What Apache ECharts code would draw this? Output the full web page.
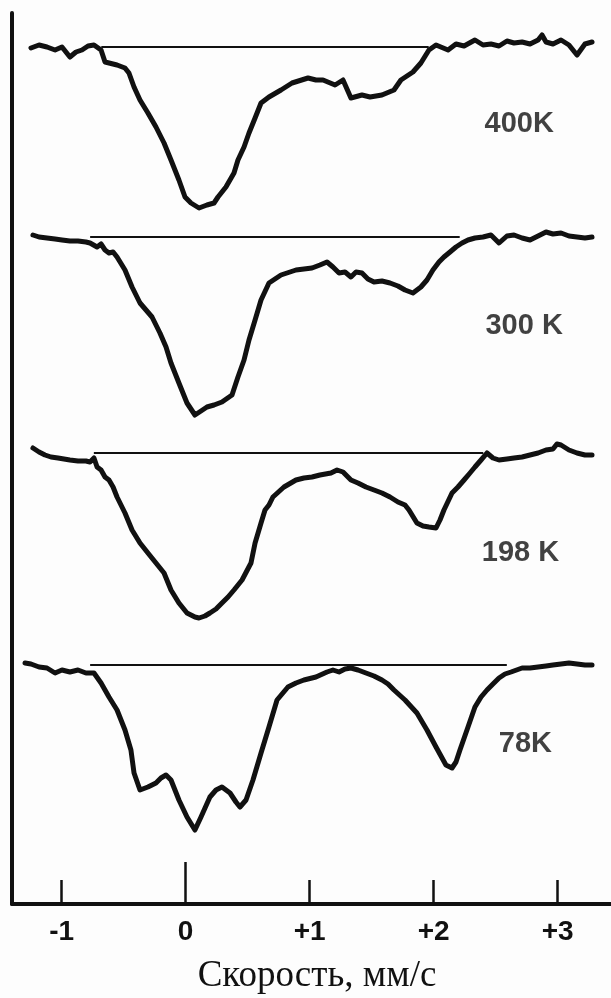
<!DOCTYPE html>
<html>
<head>
<meta charset="utf-8">
<script src="https://cdn.jsdelivr.net/npm/echarts@6/dist/echarts.min.js"></script>
<style>
  html, body { margin: 0; padding: 0; background: #fdfdfd; }
  #chart { width: 611px; height: 998px; }
</style>
</head>
<body>
<div id="chart"></div>
<script>
// ---- data (velocity in mm/s, transmission in stacked arbitrary units) ----
const tickValues = [-1, 0, 1, 2, 3];
const tickLabels = ['-1', '0', '+1', '+2', '+3'];
const temperatures = ['400K', '300 K', '198 K', '78K'];

const v400 = [-1.247,-1.182,-1.118,-1.053,-0.997,-0.933,-0.884,-0.836,-0.787,-0.739,-0.682,-0.650,-0.553,-0.489,-0.457,-0.416,-0.368,-0.304,-0.239,-0.174,-0.118,-0.054,-0.005,0.043,0.108,0.172,0.229,0.261,0.325,0.390,0.422,0.471,0.511,0.560,0.608,0.672,0.769,0.858,0.987,1.051,1.108,1.205,1.269,1.333,1.422,1.487,1.583,1.680,1.736,1.833,1.897,1.962,2.019,2.116,2.180,2.245,2.333,2.398,2.462,2.527,2.591,2.648,2.713,2.777,2.842,2.874,2.906,2.962,3.027,3.091,3.156,3.220,3.277];
const t400 = [85.6,85.9,85.7,85.4,85.7,84.7,85.2,85.4,85.8,85.9,85.4,84.2,83.9,83.6,83.1,81.7,80.4,79.1,77.7,76.1,74.4,72.4,70.7,70.1,69.6,69.9,70.1,70.7,71.7,73.1,74.4,75.7,77.1,78.6,80.1,80.7,81.4,82.1,82.6,82.4,82.4,81.9,82.4,80.6,80.9,80.7,80.9,81.4,82.4,83.2,84.1,85.4,85.9,85.4,86.0,85.8,86.4,85.9,86.0,85.8,86.3,86.1,86.2,86.0,86.4,86.9,86.2,86.0,86.4,85.9,84.9,86.0,86.2];

const v300 = [-1.231,-1.182,-1.118,-1.053,-0.997,-0.933,-0.868,-0.804,-0.771,-0.714,-0.682,-0.650,-0.618,-0.585,-0.553,-0.489,-0.432,-0.368,-0.271,-0.207,-0.158,-0.118,-0.054,0.011,0.075,0.124,0.172,0.229,0.293,0.374,0.422,0.471,0.511,0.560,0.608,0.672,0.769,0.890,1.019,1.083,1.140,1.188,1.237,1.285,1.333,1.374,1.422,1.470,1.519,1.583,1.648,1.712,1.769,1.833,1.897,1.946,1.994,2.043,2.083,2.132,2.180,2.229,2.277,2.333,2.398,2.462,2.527,2.591,2.648,2.713,2.777,2.842,2.906,2.962,3.027,3.091,3.156,3.220,3.277];
const t300 = [66.9,66.7,66.6,66.5,66.4,66.3,66.3,66.2,66.1,65.7,66.0,65.4,65.1,65.2,64.7,63.4,61.7,60.1,58.7,57.1,55.7,54.1,52.1,50.1,48.9,49.3,49.7,49.9,50.2,50.9,52.7,54.4,56.4,58.4,60.4,62.1,62.9,63.4,63.6,63.9,64.2,63.7,63.1,63.2,62.7,63.2,63.1,62.5,62.2,62.3,62.1,61.8,61.4,61.1,61.7,62.4,63.4,64.2,64.7,65.2,65.7,66.1,66.4,66.6,66.7,66.9,66.1,66.8,66.9,66.6,66.4,66.8,67.2,67.0,67.1,66.8,66.7,66.6,66.7];

const v198 = [-1.231,-1.182,-1.134,-1.086,-1.029,-0.981,-0.933,-0.868,-0.804,-0.771,-0.739,-0.714,-0.682,-0.650,-0.618,-0.585,-0.553,-0.489,-0.432,-0.368,-0.304,-0.239,-0.174,-0.118,-0.054,0.011,0.075,0.108,0.156,0.196,0.245,0.293,0.342,0.390,0.455,0.527,0.560,0.608,0.640,0.672,0.704,0.793,0.890,0.954,1.019,1.083,1.172,1.221,1.269,1.333,1.390,1.454,1.519,1.583,1.648,1.712,1.769,1.801,1.865,1.914,1.962,2.019,2.051,2.083,2.148,2.196,2.245,2.293,2.333,2.382,2.430,2.478,2.527,2.591,2.648,2.713,2.777,2.842,2.906,2.962,2.994,3.027,3.091,3.156,3.220,3.277];
const t198 = [45.6,45.2,44.9,44.7,44.6,44.5,44.4,44.3,44.3,44.2,44.6,43.7,43.4,42.7,42.4,41.7,40.7,39.1,37.4,36.1,35.1,34.1,33.1,31.4,30.1,29.1,28.7,28.6,28.8,29.1,29.5,30.1,30.7,31.4,32.4,34.1,36.1,38.1,39.4,39.9,40.7,41.7,42.4,42.6,42.7,42.9,43.1,43.4,43.2,42.4,42.1,41.7,41.4,41.1,40.7,40.2,39.9,39.4,38.1,37.8,37.7,37.6,38.4,39.4,41.1,41.7,42.4,43.1,43.7,44.4,45.1,44.6,44.4,44.5,44.6,44.7,44.9,45.1,45.4,45.5,46.0,45.9,45.4,45.1,44.9,44.9];

const v78 = [-1.295,-1.247,-1.182,-1.118,-1.053,-0.997,-0.933,-0.868,-0.804,-0.739,-0.682,-0.618,-0.553,-0.489,-0.441,-0.416,-0.368,-0.304,-0.239,-0.199,-0.158,-0.118,-0.054,0.011,0.075,0.124,0.196,0.245,0.293,0.358,0.406,0.438,0.487,0.543,0.608,0.672,0.737,0.825,0.890,0.954,1.051,1.140,1.188,1.237,1.285,1.333,1.390,1.454,1.519,1.583,1.632,1.680,1.769,1.865,1.946,2.019,2.099,2.148,2.180,2.212,2.277,2.333,2.382,2.430,2.478,2.527,2.575,2.624,2.713,2.777,2.842,2.906,2.962,3.027,3.091,3.156,3.220,3.277];
const t78 = [24.1,24.0,23.7,23.6,23.1,23.4,23.2,23.4,23.1,23.1,22.1,20.7,19.4,17.4,15.4,13.1,11.4,11.7,12.1,12.6,12.9,12.4,10.4,8.7,7.4,8.7,10.7,11.4,11.7,11.1,10.2,9.7,10.4,12.4,15.1,17.7,20.4,21.7,22.1,22.4,22.7,23.2,23.4,23.2,23.5,23.6,23.4,23.1,22.8,22.4,22.0,21.4,20.4,19.1,17.4,15.7,13.9,13.6,14.2,15.4,17.7,19.7,20.7,21.4,22.0,22.6,23.0,23.2,23.6,23.6,23.7,23.8,23.9,24.0,24.1,24.0,23.9,23.9];

// reference (off-resonance) lines for each spectrum: velocity span and level
const baseSpan = [[-0.68, 1.96], [-0.77, 2.21], [-0.74, 2.40], [-0.77, 2.59]];
const baseLevel = [85.7, 66.7, 45.1, 23.9];
// where each temperature label sits, in data coordinates
const labelVel = [2.69, 2.73, 2.70, 2.74];
const labelLevel = [78.0, 57.8, 35.1, 16.0];

// ---- chart ----
const zip = (xs, ys) => xs.slice(0, Math.min(xs.length, ys.length)).map((x, i) => [x, ys[i]]);
const spectra = [zip(v400, t400), zip(v300, t300), zip(v198, t198), zip(v78, t78)];
const ink = '#111111';
const sans = 'Liberation Sans, Arial, sans-serif';

const series = [];
spectra.forEach((d, i) => {
  series.push({
    type: 'line', data: [[baseSpan[i][0], baseLevel[i]], [baseSpan[i][1], baseLevel[i]]],
    showSymbol: false, silent: true, animation: false,
    lineStyle: { color: ink, width: 1.8 }
  });
  series.push({
    type: 'line', data: d, showSymbol: false, silent: true, animation: false,
    lineStyle: { color: ink, width: 5, join: 'round', cap: 'round' }
  });
});
series.push({
  type: 'scatter', data: temperatures.map((t, i) => [labelVel[i], labelLevel[i], t]),
  symbolSize: 0, silent: true, animation: false,
  label: {
    show: true, position: 'inside', formatter: p => p.value[2],
    fontFamily: sans, fontSize: 29, fontWeight: 'bold', color: ink
  }
});

const chart = echarts.init(document.getElementById('chart'), null, { renderer: 'canvas' });
chart.setOption({
  backgroundColor: '#fdfdfd',
  animation: false,
  grid: { left: 12, right: 0, top: 13, bottom: 94, containLabel: false },
  xAxis: [{
    type: 'value', min: -1.4, max: 3.43,
    axisLine: { show: true, onZero: false, lineStyle: { color: ink, width: 4 } },
    axisTick: { show: true, inside: true, length: 24, customValues: tickValues, lineStyle: { color: ink, width: 2.5 } },
    axisLabel: {
      show: true, customValues: tickValues, margin: 14,
      formatter: v => tickLabels[tickValues.indexOf(Math.round(v))] ?? '',
      fontFamily: sans, fontSize: 28, fontWeight: 'bold', color: ink
    },
    splitLine: { show: false }
  }, {
    type: 'value', min: -1.4, max: 3.43, position: 'bottom',
    axisLine: { show: false, onZero: false },
    axisTick: { show: true, inside: true, length: 42, customValues: [0], lineStyle: { color: ink, width: 2.5 } },
    axisLabel: { show: false },
    splitLine: { show: false }
  }],
  yAxis: {
    type: 'value', min: 0, max: 89.1,
    axisLine: { show: true, onZero: false, lineStyle: { color: ink, width: 4 } },
    axisTick: { show: false }, axisLabel: { show: false }, splitLine: { show: false }
  },
  graphic: [{
    type: 'text', x: 317, y: 976,
    style: {
      text: 'Скорость, мм/с', font: '37px "Liberation Serif", "Times New Roman", serif',
      fill: ink, textAlign: 'center', textVerticalAlign: 'middle'
    }
  }],
  series: series
});
</script>
</body>
</html>
